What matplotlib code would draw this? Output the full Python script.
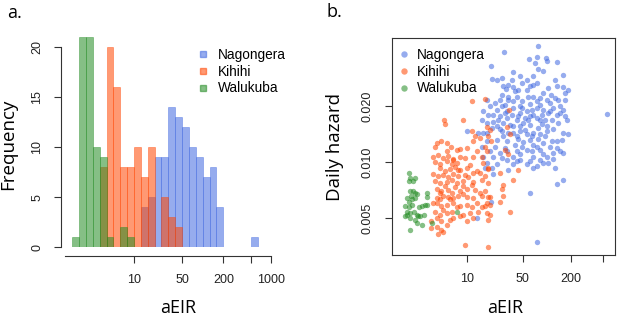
import numpy as np
import matplotlib
matplotlib.use("Agg")
import matplotlib.pyplot as plt
from matplotlib.ticker import NullLocator
from matplotlib.lines import Line2D

# histogram data: log10(aEIR) bins of width 0.1
bin_w = 0.1
walukuba_start = 0.1
walukuba_counts = [1, 21, 21, 10, 9, 1, 0, 2, 1]
kihihi_start = 0.5
kihihi_counts = [8, 20, 16, 8, 8, 10, 7, 10, 0, 5, 3, 2]
nagongera_start = 1.1
nagongera_counts = [4, 5, 9, 9, 14, 13, 12, 10, 9, 7, 8, 4, 0, 0, 0, 0, 1]

sites = ["Nagongera", "Kihihi", "Walukuba"]

# scatter data: (aEIR, daily hazard)
nagongera_pts = np.array([
    (78, .0419), (29, .0390), (76, .0367), (60, .0358), (97, .0362), (99, .0348), (134, .0345), (70, .0341),
    (19.8, .0327), (78, .0317), (160, .0295), (20.3, .0279), (27.1, .0283), (23.5, .0275), (36.2, .0277),
    (37.9, .0304), (46, .0291), (55.7, .0277), (48.3, .0266), (61.3, .0257), (76, .0266), (132, .0257),
    (160, .0253), (32.9, .0260), (67.5, .0289), (90, .0307),
    (30.7, .0247), (39.8, .0240), (27.1, .0230), (25.8, .0216), (32.9, .0223), (41.8, .0225), (49.2, .0214),
    (67.5, .0225), (76, .0214), (90, .0235), (111, .0230), (126, .0221), (168, .0235), (55.7, .0243),
    (17.6, .0216), (22.4, .0208), (37.9, .0212), (61.3, .0206), (81.8, .0203), (109, .0208), (145, .0201),
    (46, .0201), (168, .0216), (185, .0245), (99, .0216), (29.8, .0203),
    (16, .0187), (18.5, .0180), (23.5, .0191), (31.3, .0189), (37.9, .0195), (46, .0183), (55.7, .0187),
    (67.5, .0180), (81.8, .0169), (99, .0156), (114, .0169), (132, .0180), (160, .0191), (168, .0176),
    (138, .0162), (120, .0195), (90, .0191), (74.3, .0195), (25.8, .0176), (31.3, .0172), (41.8, .0169),
    (50.6, .0162), (61.3, .0159), (21.3, .0165), (15.2, .0169), (74.3, .0172), (34.5, .0159), (28.4, .0162),
    (23.5, .0156), (46, .0156), (104, .0183), (145, .0183), (176, .0169), (61.3, .0176), (19.4, .0199),
    (29.8, .0183), (53, .0172), (86, .0161),
    (9.9, .0146), (13.8, .0143), (16, .0144), (20.3, .0152), (25.8, .0151), (32.9, .0144), (37.9, .0143),
    (43.9, .0133), (50.6, .0128), (61.3, .0132), (78, .0133), (90, .0127), (109, .0121), (160, .0143),
    (185, .0142), (120, .0151), (99, .0146), (67.5, .0143), (55.7, .0141), (46, .0146), (28.4, .0138),
    (23.5, .0132), (17.6, .0130), (31.3, .0130), (39.8, .0124), (67.5, .0124), (132, .0130), (17.6, .0143),
    (81.8, .0141), (152, .0132),
    (15.2, .0121), (16, .0107), (17.6, .0099), (20.3, .0093), (23.5, .0097), (31.3, .0103), (37.9, .0097),
    (46, .0103), (55.7, .0097), (67.5, .0107), (81.8, .0116), (104, .0099), (99, .0107), (90, .0099),
    (120, .0112), (145, .0114), (132, .0119), (74.3, .0121), (55.7, .0116), (46, .0110), (41.8, .0114),
    (31.3, .0114), (25.8, .0112), (21.3, .0107), (16.8, .0093), (32.9, .0091), (67.5, .0093), (120, .0104),
    (160, .0112), (37.9, .0107), (61.3, .0101), (81.8, .0103),
    (160, .0080), (132, .0076), (61.3, .0068), (21.3, .0086), (13.2, .0050), (19.9, .0061), (74.3, .0037),
    (568, .0182),
    (27.1, .0199), (36.2, .0180), (48.3, .0195), (64.3, .0191), (86, .0180), (109, .0187), (43.9, .0176),
    (58.5, .0168), (78, .0152), (94.5, .0169), (27.1, .0146), (41.8, .0138), (53, .0149), (64.3, .0138),
    (94.5, .0138), (114, .0130), (22.4, .0121), (29.8, .0119), (48.3, .0121), (64.3, .0114), (90, .0111),
    (19.4, .0114), (27.1, .0105), (41.8, .0101), (74.3, .0095), (126, .0093), (32.9, .0216), (43.9, .0245),
    (58.5, .0225), (81.8, .0221), (104, .0250), (138, .0216), (126, .0277), (67.5, .0260), (28.4, .0257),
    (37.9, .0253), (21.3, .0180), (17.6, .0162), (24.6, .0169), (37.9, .0156),
])

kihihi_pts = np.array([
    (16.8, .0217), (11.6, .0214), (8.8, .0169), (5.2, .0168), (5.3, .0161), (11.4, .0146), (12.6, .0138),
    (14.5, .0135), (12.0, .0130), (4.17, .0127), (4.8, .0130), (5.57, .0126), (6.3, .0121), (4.0, .0120),
    (7.43, .0116), (8.18, .0117), (9.9, .0119), (17.6, .0155), (19.4, .0148), (18.5, .0138), (19.8, .0130),
    (33.8, .0191), (31.3, .0155), (34.5, .0141), (29.8, .0116), (32.9, .0111), (43.9, .0091), (37.9, .0080),
    (17.6, .0114), (15.2, .0107), (16.8, .0121),
    (3.79, .0106), (4.38, .0109), (5.06, .0105), (5.85, .0108), (6.75, .0104), (8.18, .0107),
    (3.98, .0100), (4.6, .0097), (5.57, .0101), (6.43, .0098), (7.43, .0099), (10.9, .0096),
    (4.6, .0093), (5.3, .0090), (6.13, .0092), (7.1, .0094), (8.18, .0091), (9.9, .0093), (13.2, .0090),
    (18.5, .0092),
    (3.79, .0086), (4.38, .0084), (5.06, .0085), (5.85, .0083), (6.75, .0086), (7.8, .0084), (9.4, .0085),
    (12.0, .0087), (16.8, .0084),
    (3.98, .0079), (4.6, .0077), (5.57, .0078), (6.43, .0080), (7.43, .0077), (9.0, .0079), (12.0, .0078),
    (15.2, .0080), (18.5, .0077),
    (4.17, .0072), (4.8, .0070), (5.85, .0071), (7.1, .0073), (8.18, .0070), (9.9, .0072), (12.6, .0071),
    (16.8, .0070), (27.1, .0072),
    (4.17, .0064), (5.06, .0066), (5.85, .0065), (6.75, .0064), (7.8, .0066), (9.9, .0065), (12.0, .0064),
    (15.2, .0066), (19.4, .0065), (28.4, .0066),
    (4.17, .0060), (4.8, .0058), (5.57, .0059), (6.75, .0060), (8.18, .0058), (9.9, .0059), (13.2, .0060),
    (16.8, .0058), (19.4, .0059),
    (3.98, .0054), (4.6, .0052), (5.57, .0053), (6.43, .0054), (9.0, .0052), (10.9, .0053), (13.8, .0054),
    (19.4, .0052), (34.5, .0054),
    (3.6, .0048), (4.17, .0050), (4.8, .0048), (6.13, .0049), (9.9, .0048), (12.0, .0050), (18.5, .0049),
    (3.6, .0044), (4.17, .0045), (4.8, .0043), (4.38, .0041), (5.06, .0042),
    (9.4, .0036), (18.5, .0035), (25.8, .0087), (27.8, .0075), (25.8, .0061),
    (5.57, .0114), (6.75, .0103), (9.4, .0105), (12.0, .0107), (13.2, .0114), (16, .0099), (18.5, .0093),
    (5.3, .0074), (6.43, .0068), (9.0, .0074), (11.4, .0075), (14.5, .0068), (18.5, .0065), (5.06, .0055),
    (7.43, .0057), (11.4, .0057), (15.2, .0057), (17.6, .0053), (17.6, .0060), (6.13, .0063), (9.0, .0067),
    (10.4, .0083), (14.5, .0087), (7.8, .0091), (4.6, .0063), (5.57, .0046), (6.75, .0050), (8.18, .0051),
    (4.6, .0068), (3.79, .0060),
])

walukuba_pts = np.array([
    (1.86, .0087), (1.96, .0082), (1.86, .0079), (2.09, .0079), (2.26, .0082), (1.96, .0070), (2.09, .0070),
    (2.21, .0068), (2.0, .0066), (2.37, .0067), (1.78, .0064), (1.86, .0061), (2.05, .0063), (2.26, .0064),
    (1.69, .0058), (1.86, .0057), (1.78, .0054), (1.96, .0053), (2.15, .0054), (2.37, .0052), (2.61, .0051),
    (2.87, .0052), (1.69, .0051), (1.96, .0050), (2.26, .0049), (2.37, .0047), (2.73, .0046), (1.96, .0043),
    (3.0, .0059), (2.73, .0058), (3.16, .0059), (3.16, .0068), (3.16, .0065), (3.65, .0047), (7.5, .0054),
    (2.44, .0051), (2.05, .0059), (2.49, .0057), (1.78, .0052),
])

colors = {"Nagongera": "royalblue", "Kihihi": "orangered", "Walukuba": "forestgreen"}

W, H = 617, 318
fig = plt.figure(figsize=(W / 100, H / 100), dpi=100)
tick_font = "Liberation Sans"
label_font = "Open Sans"
axcol = "#333333"

# ---------------- panel a: histogram ----------------
ax1 = fig.add_axes([65.3 / W, 1 - 247.3 / H, 206.1 / W, 210 / H])
hist = [("Nagongera", nagongera_start, nagongera_counts),
        ("Kihihi", kihihi_start, kihihi_counts),
        ("Walukuba", walukuba_start, walukuba_counts)]
for name, start, counts in hist:
    lo = start + bin_w * np.arange(len(counts))
    left = 10 ** lo
    right = 10 ** (lo + bin_w)
    ax1.bar(left, counts, width=right - left, align="edge",
            color=colors[name], alpha=0.55, edgecolor=colors[name], linewidth=0.5)

ax1.set_xscale("log")
ax1.set_xlim(1, 1000)
ax1.set_ylim(0, 21)
ax1.spines["top"].set_visible(False)
ax1.spines["right"].set_visible(False)
ax1.spines["left"].set_position(("outward", 3))
ax1.spines["bottom"].set_position(("outward", 6.5))
ax1.spines["left"].set_bounds(0, 20)
ax1.spines["bottom"].set_bounds(1, 1000)
for s in ("left", "bottom"):
    ax1.spines[s].set_color(axcol)
    ax1.spines[s].set_linewidth(0.8)
ax1.set_xticks([10, 50, 200, 500, 1000])
ax1.set_xticklabels(["10", "50", "200", "", "1000"])
ax1.xaxis.set_minor_locator(NullLocator())
ax1.set_yticks([0, 5, 10, 15, 20])
ax1.set_yticklabels(["0", "5", "10", "15", "20"], rotation=90, va="center")

leg1 = ax1.legend(handles=[Line2D([], [], ls="none", marker="s", ms=4.5, color=colors[n], alpha=0.55,
                                  label=n) for n in sites],
                  loc="upper left", bbox_to_anchor=(196.4 / W, 1 - 48 / H),
                  bbox_transform=fig.transFigure, frameon=False, borderpad=0, borderaxespad=0,
                  handlelength=1.0, handletextpad=0.6, labelspacing=0.2,
                  prop={"family": tick_font, "size": 9.8})

ax1.set_xlabel("aEIR", family=label_font, fontsize=13, va="center")
ax1.xaxis.set_label_coords((178 - 65.3) / 206.1, (247.3 - 308) / 210)
ax1.set_ylabel("Frequency", family=label_font, fontsize=13.5, va="center")
ax1.yaxis.set_label_coords((8 - 65.3) / 206.1, (247.3 - 144) / 210)

# ---------------- panel b: scatter ----------------
ax2 = fig.add_axes([392 / W, 1 - 255 / H, 223 / W, 217 / H])
for name, pts in (("Nagongera", nagongera_pts), ("Kihihi", kihihi_pts), ("Walukuba", walukuba_pts)):
    ax2.scatter(pts[:, 0], pts[:, 1], s=15, color=colors[name], alpha=0.55, linewidths=0)

ax2.set_xscale("log")
ax2.set_yscale("log")
ax2.set_xlim(1.155, 708)
ax2.set_ylim(0.003162, 0.04645)
for s in ax2.spines.values():
    s.set_color(axcol)
    s.set_linewidth(0.8)
ax2.set_xticks([10, 50, 200, 500])
ax2.set_xticklabels(["10", "50", "200", ""])
ax2.set_yticks([0.005, 0.010, 0.020])
ax2.set_yticklabels(["0.005", "0.010", "0.020"], rotation=90, va="center")
ax2.xaxis.set_minor_locator(NullLocator())
ax2.yaxis.set_minor_locator(NullLocator())

leg2 = ax2.legend(handles=[Line2D([], [], ls="none", marker="o", ms=4.6, color=colors[n], alpha=0.55,
                                  mew=0, label=n) for n in sites],
                  loc="upper left", bbox_to_anchor=(397.4 / W, 1 - 48 / H),
                  bbox_transform=fig.transFigure, frameon=False, borderpad=0, borderaxespad=0,
                  handlelength=1.0, handletextpad=0.4, labelspacing=0.2,
                  prop={"family": tick_font, "size": 9.8})

ax2.set_xlabel("aEIR", family=label_font, fontsize=13, va="center")
ax2.xaxis.set_label_coords((505 - 392) / 223, (255 - 308) / 217)
ax2.set_ylabel("Daily hazard", family=label_font, fontsize=13.5, va="center")
ax2.yaxis.set_label_coords((335 - 392) / 223, (255 - 147) / 217)

for ax in (ax1, ax2):
    ax.tick_params(length=5, width=0.8, color=axcol, pad=8, labelsize=9, labelcolor="#222222")
    for lab in ax.get_xticklabels() + ax.get_yticklabels():
        lab.set_family(tick_font)

fig.text(7 / W, 1 - 13 / H, "a.", family=label_font, fontsize=13, va="center", ha="left")
fig.text(327 / W, 1 - 12 / H, "b.", family=label_font, fontsize=13, va="center", ha="left")

fig.savefig("out.png", dpi=100)
